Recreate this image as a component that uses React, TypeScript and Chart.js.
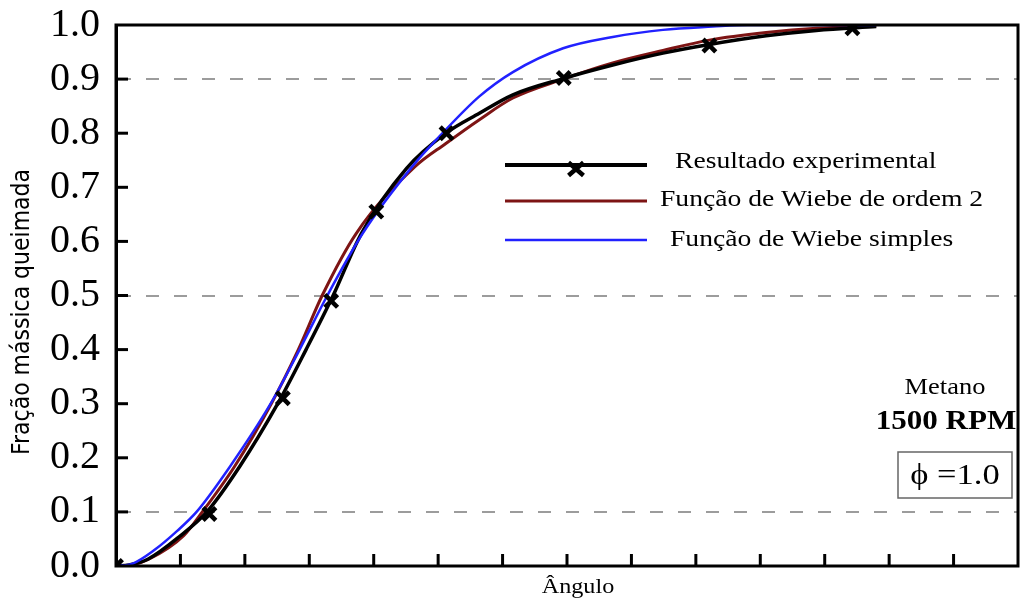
import { useEffect, useRef } from 'react';
import { Chart, registerables } from 'chart.js';

Chart.register(...registerables);

// ---- data ----
const X_TICKS = [0, 1, 2, 3, 4, 5, 6, 7, 8, 9, 10, 11, 12, 13, 14];
const Y_TICKS = [0, 0.1, 0.2, 0.3, 0.4, 0.5, 0.6, 0.7, 0.8, 0.9, 1.0];
const GRID_VALUES = [0.1, 0.5, 0.9];

// experimental markers
const expAngle = [0, 1.45, 2.59, 3.34, 4.04, 5.13, 6.95, 9.21, 11.43];
const expFraction = [0, 0.096, 0.31, 0.49, 0.655, 0.8, 0.902, 0.962, 0.994];

// experimental curve
const expCurveAngle = [0, 0.2, 0.5, 0.99, 1.41, 1.92, 2.51, 2.95, 3.37, 3.81, 4.51, 5.12, 5.64, 6.16, 6.94, 7.71, 8.49, 9.21, 10.09, 10.87, 11.8];
const expCurveFraction = [0, 0.002, 0.013, 0.055, 0.1, 0.184, 0.3, 0.4, 0.5, 0.615, 0.735, 0.8, 0.837, 0.871, 0.901, 0.926, 0.948, 0.964, 0.98, 0.99, 0.997];

// Wiebe 2nd order
const wiebe2Angle = [0, 0.2, 0.5, 1.05, 1.34, 1.84, 2.41, 2.83, 3.2, 3.73, 4.64, 5.12, 5.64, 6.16, 6.94, 7.71, 8.49, 9.21, 10.09, 10.87, 11.8];
const wiebe2Fraction = [0, 0.001, 0.012, 0.056, 0.1, 0.184, 0.3, 0.4, 0.5, 0.615, 0.738, 0.781, 0.825, 0.865, 0.9, 0.93, 0.953, 0.972, 0.986, 0.994, 0.998];

// simple Wiebe
const wiebeAngle = [0, 0.25, 0.6, 0.95, 1.25, 1.77, 2.4, 2.85, 3.28, 3.83, 4.61, 5.02, 5.64, 6.16, 6.94, 7.71, 8.49, 9.26, 9.8, 11.8];
const wiebeFraction = [0, 0.004, 0.03, 0.065, 0.1, 0.184, 0.3, 0.4, 0.5, 0.615, 0.74, 0.794, 0.868, 0.913, 0.957, 0.978, 0.991, 0.997, 1.0, 1.0];

const LEGEND_LABELS = ['Resultado experimental', 'Função de Wiebe de ordem 2', 'Função de Wiebe simples'];
const Y_TITLE = 'Fração mássica queimada';
const X_TITLE = 'Ângulo';
const NOTE_FUEL = 'Metano';
const NOTE_RPM = '1500 RPM';
const NOTE_PHI = 'ϕ =1.0';

const BLACK = '#000000';
const RED = '#7d1414';
const BLUE = '#2121ff';
const SERIF = '"Liberation Serif", "Times New Roman", serif';
const SX = 1.15;

const zip = (xs: number[], ys: number[]) => xs.map((x, i) => ({ x, y: ys[i] }));

function stretchText(ctx: CanvasRenderingContext2D, text: string, x: number, y: number, font: string, align: CanvasTextAlign) {
  ctx.save();
  ctx.font = font;
  ctx.fillStyle = '#000';
  ctx.textAlign = align;
  ctx.textBaseline = 'middle';
  ctx.translate(x, y);
  ctx.scale(SX, 1);
  ctx.fillText(text, 0, 0);
  ctx.restore();
}

const decorPlugin = {
  id: 'decor',
  beforeDatasetsDraw(chart: any) {
    const ctx: CanvasRenderingContext2D = chart.ctx;
    const xs = chart.scales.x;
    const ys = chart.scales.y;
    const { left, bottom } = chart.chartArea;
    ctx.save();
    ctx.strokeStyle = '#000';
    ctx.lineWidth = 3;
    X_TICKS.slice(1, -1).forEach((v) => {
      const px = xs.getPixelForValue(v);
      ctx.beginPath();
      ctx.moveTo(px, bottom);
      ctx.lineTo(px, bottom - 12);
      ctx.stroke();
    });
    Y_TICKS.slice(1, -1).forEach((v) => {
      const py = ys.getPixelForValue(v);
      ctx.beginPath();
      ctx.moveTo(left, py);
      ctx.lineTo(left + 12, py);
      ctx.stroke();
    });
    ctx.restore();
  },
  afterDraw(chart: any) {
    const ctx: CanvasRenderingContext2D = chart.ctx;
    const { left, top, right, bottom } = chart.chartArea;
    ctx.save();
    // frame
    ctx.strokeStyle = '#000';
    ctx.lineWidth = 3;
    ctx.strokeRect(left, top, right - left, bottom - top);

    // legend
    const lx1 = 505, lx2 = 647;
    const rows = [
      { y: 165, color: BLACK, w: 4, tx: 675, ty: 162 },
      { y: 201, color: RED, w: 3, tx: 660, ty: 200 },
      { y: 240, color: BLUE, w: 2.5, tx: 670, ty: 240 },
    ];
    rows.forEach((r, i) => {
      ctx.strokeStyle = r.color;
      ctx.lineWidth = r.w;
      ctx.beginPath();
      ctx.moveTo(lx1, r.y);
      ctx.lineTo(lx2, r.y);
      ctx.stroke();
      stretchText(ctx, LEGEND_LABELS[i], r.tx, r.ty, `24px ${SERIF}`, 'left');
    });
    // legend marker
    ctx.strokeStyle = BLACK;
    ctx.lineWidth = 4.5;
    const mx = 576, my = 169, mr = 6.5;
    ctx.beginPath();
    ctx.moveTo(mx - mr * 1.15, my - mr);
    ctx.lineTo(mx + mr * 1.15, my + mr);
    ctx.moveTo(mx + mr * 1.15, my - mr);
    ctx.lineTo(mx - mr * 1.15, my + mr);
    ctx.stroke();

    // notes
    stretchText(ctx, NOTE_FUEL, 945, 388, `23px ${SERIF}`, 'center');
    stretchText(ctx, NOTE_RPM, 946, 422, `bold 27px ${SERIF}`, 'center');
    ctx.strokeStyle = '#666';
    ctx.lineWidth = 1.5;
    ctx.strokeRect(898, 452, 114, 46);
    stretchText(ctx, NOTE_PHI, 955, 476, `30px ${SERIF}`, 'center');

    // axis titles
    stretchText(ctx, X_TITLE, 578, 587, `21px ${SERIF}`, 'center');
    ctx.save();
    ctx.translate(22, 312);
    ctx.rotate(-Math.PI / 2);
    ctx.scale(1, SX);
    ctx.font = '22px "DejaVu Sans", sans-serif';
    ctx.fillStyle = '#000';
    ctx.textAlign = 'center';
    ctx.textBaseline = 'middle';
    ctx.fillText(Y_TITLE, 0, 0);
    ctx.restore();

    ctx.restore();
  },
};

export default function App() {
  const ref = useRef<HTMLCanvasElement | null>(null);

  useEffect(() => {
    document.body.style.margin = '0';
    const canvas = ref.current;
    if (!canvas) return;
    const chart = new Chart(canvas, {
      type: 'line',
      data: {
        datasets: [
          {
            label: LEGEND_LABELS[0] + ' (pontos)',
            data: zip(expAngle, expFraction),
            showLine: false,
            pointStyle: 'crossRot',
            pointRadius: 9,
            pointBorderWidth: 4.5,
            pointBorderColor: BLACK,
            pointBackgroundColor: BLACK,
            borderColor: BLACK,
            order: 0,
          },
          {
            label: LEGEND_LABELS[2],
            data: zip(wiebeAngle, wiebeFraction),
            borderColor: BLUE,
            borderWidth: 2.5,
            pointRadius: 0,
            cubicInterpolationMode: 'monotone',
            order: 1,
          },
          {
            label: LEGEND_LABELS[0],
            data: zip(expCurveAngle, expCurveFraction),
            borderColor: BLACK,
            borderWidth: 3.5,
            pointRadius: 0,
            cubicInterpolationMode: 'monotone',
            order: 2,
          },
          {
            label: LEGEND_LABELS[1],
            data: zip(wiebe2Angle, wiebe2Fraction),
            borderColor: RED,
            borderWidth: 3,
            pointRadius: 0,
            cubicInterpolationMode: 'monotone',
            order: 3,
          },
        ],
      },
      options: {
        animation: false,
        responsive: false,
        devicePixelRatio: 1,
        layout: { autoPadding: false, padding: { top: 25, right: 4, left: 0, bottom: 35 } },
        plugins: {
          legend: { display: false },
          tooltip: { enabled: false },
        },
        scales: {
          x: {
            type: 'linear',
            display: false,
            min: X_TICKS[0],
            max: X_TICKS[X_TICKS.length - 1],
            afterBuildTicks: (s: any) => {
              s.ticks = X_TICKS.map((v) => ({ value: v }));
            },
          },
          y: {
            type: 'linear',
            min: 0,
            max: 1,
            afterBuildTicks: (s: any) => {
              s.ticks = Y_TICKS.map((v) => ({ value: v }));
            },
            afterFit: (s: any) => {
              s.width = 116;
            },
            ticks: {
              callback: (v: any) => Number(v).toFixed(1),
              font: { family: SERIF, size: 40 },
              color: '#000',
              padding: 0,
            },
            grid: {
              drawTicks: true,
              tickLength: 16,
              tickColor: 'rgba(0,0,0,0)',
              lineWidth: 2,
              color: (c: any) =>
                c.tick && GRID_VALUES.some((g) => Math.abs(g - c.tick.value) < 1e-6) ? '#9c9c9c' : 'rgba(0,0,0,0)',
            },
            border: { display: true, color: '#000', width: 3, dash: [13, 15] },
          },
        },
      },
      plugins: [decorPlugin],
    } as any);
    return () => chart.destroy();
  }, []);

  return (
    <div style={{ position: 'absolute', left: 0, top: 0, width: 1022, height: 601 }}>
      <canvas ref={ref} width={1022} height={601} style={{ display: 'block' }} />
    </div>
  );
}
